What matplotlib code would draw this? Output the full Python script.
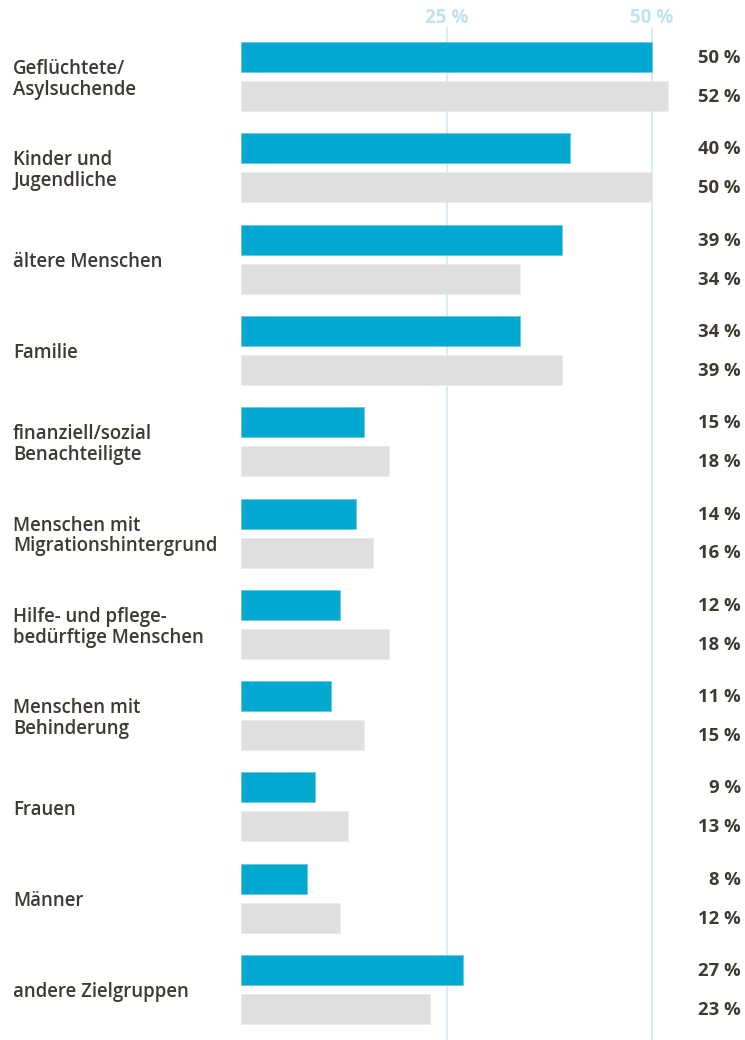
import matplotlib.pyplot as plt

# --- Data ---

categories = [
    "Geflüchtete/\nAsylsuchende",
    "Kinder und\nJugendliche",
    "ältere Menschen",
    "Familie",
    "finanziell/sozial\nBenachteiligte",
    "Menschen mit\nMigrationshintergrund",
    "Hilfe- und pflege-\nbedürftige Menschen",
    "Menschen mit\nBehinderung",
    "Frauen",
    "Männer",
    "andere Zielgruppen",
]
blue_values = [50, 40, 39, 34, 15, 14, 12, 11, 9, 8, 27]
grey_values = [52, 50, 34, 39, 18, 16, 18, 15, 13, 12, 23]
grid_ticks = [25, 50]

# --- Style ---

BLUE = "#01a8cf"
GREY = "#dfdfde"
TEXT = "#3d3a31"
GRID = "#cfe6f1"
plt.rcParams['font.family'] = ['Open Sans', 'DejaVu Sans']

W, H = 745, 1040
fig = plt.figure(figsize=(W / 100, H / 100), dpi=100)

# axes spans from the bar baseline to the right edge; y in pixel-like units
x0 = 241
px_per_pct = (652 - 241) / 50
ax = fig.add_axes([x0 / W, 0, (W - x0) / W, 1])
ax.set_xlim(0, (W - x0) / px_per_pct)
ax.set_ylim(H, 0)
ax.axis('off')

pitch = 91.3
first = 76.5
off = 19.5
bh = 30

for i, (cat, b, g) in enumerate(zip(categories, blue_values, grey_values)):
    yc = first + pitch * i
    ax.barh(yc - off, b, height=bh, color=BLUE, edgecolor="#6cc6e0", linewidth=0.6, zorder=2)
    ax.barh(yc + off, g, height=bh, color=GREY, edgecolor="#ececeb", linewidth=0.6, zorder=2)
    fig.text(13 / W, 1 - (yc + 3) / H, cat, ha='left', va='center', fontsize=13.4,
             fontweight='semibold', color=TEXT, linespacing=1.05)
    fig.text(741 / W, 1 - (yc - off + 1) / H, f"{b} %", ha='right', va='center',
             fontsize=13.3, fontweight='bold', color=TEXT)
    fig.text(741 / W, 1 - (yc + off + 1) / H, f"{g} %", ha='right', va='center',
             fontsize=13.3, fontweight='bold', color=TEXT)

for t in grid_ticks:
    ax.plot([t, t], [28, H], color=GRID, linewidth=1.1, zorder=1)
    ax.text(t, 18, f"{t} %", ha='center', va='center', fontsize=13.5,
            fontweight='bold', color="#bfe2ef")

fig.savefig("out.png", dpi=100)
